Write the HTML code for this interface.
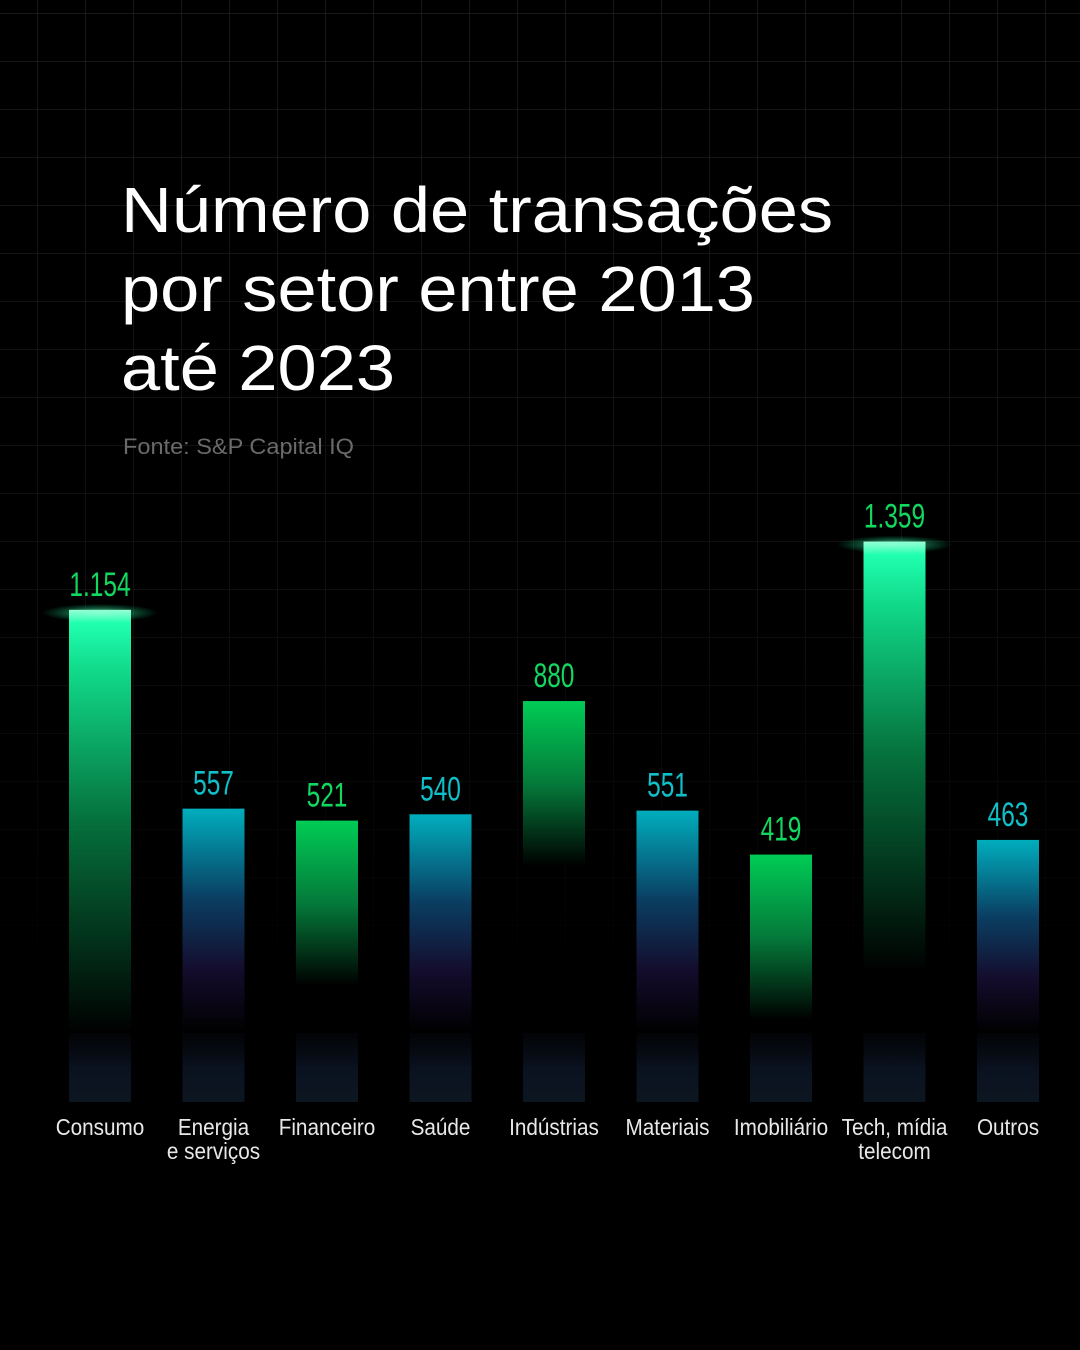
<!DOCTYPE html>
<html><head><meta charset="utf-8"><style>
html,body{margin:0;padding:0;background:#000}
#wrap{position:relative;width:1080px;height:1350px;overflow:hidden;background:#000;font-family:"Liberation Sans","DejaVu Sans",sans-serif}
svg{position:absolute;left:0;top:0}
</style></head><body>
<div id="wrap">
<svg id="chart" width="1080" height="1350">
<defs>
<linearGradient id="gridFade" x1="0" y1="0" x2="0" y2="1">
<stop offset="0" stop-color="#fff" stop-opacity="1"/><stop offset="0.45" stop-color="#fff" stop-opacity="0.6"/><stop offset="0.75" stop-color="#fff" stop-opacity="0"/>
</linearGradient>
<mask id="gm"><rect width="1080" height="1350" fill="url(#gridFade)"/></mask>
<linearGradient id="gGreen" x1="0" y1="0" x2="0" y2="1">
<stop offset="0" stop-color="#00cc55"/><stop offset="0.5" stop-color="#047a3a"/><stop offset="1" stop-color="#000"/>
</linearGradient>
<linearGradient id="gCyan" x1="0" y1="0" x2="0" y2="1">
<stop offset="0" stop-color="#00aebd"/><stop offset="0.4" stop-color="#0a3e62"/><stop offset="0.72" stop-color="#140c2c"/><stop offset="1" stop-color="#000"/>
</linearGradient>
<linearGradient id="gMint" x1="0" y1="0" x2="0" y2="1">
<stop offset="0" stop-color="#c8ffe8"/><stop offset="0.03" stop-color="#20ffb0"/><stop offset="0.15" stop-color="#10d888"/><stop offset="0.5" stop-color="#05703c"/><stop offset="1" stop-color="#000"/>
</linearGradient>
<linearGradient id="gBase" x1="0" y1="0" x2="0" y2="1">
<stop offset="0" stop-color="#070b14" stop-opacity="0.3"/><stop offset="0.5" stop-color="#0a1220"/><stop offset="1" stop-color="#0c1620"/>
</linearGradient>
<radialGradient id="glow" cx="0.5" cy="0.5" r="0.5">
<stop offset="0" stop-color="#7fffd0" stop-opacity="0.7"/><stop offset="1" stop-color="#00ff99" stop-opacity="0"/>
</radialGradient>
</defs>
<g id="grid" mask="url(#gm)"></g>
<g transform="translate(121,0) scale(1.1,1)">
<text x="0" y="232" fill="#fff" font-size="64">Número de transações</text>
<text x="0" y="311" fill="#fff" font-size="64">por setor entre 2013</text>
<text x="0" y="390" fill="#fff" font-size="64">até 2023</text>
</g>
<text x="0" y="454" transform="translate(123,0) scale(1.07,1)" fill="#6a6a6a" font-size="22">Fonte: S&amp;P Capital IQ</text>
<g id="bars"></g>
</svg>
</div>
<script>
const categories = ["Consumo","Energia|e serviços","Financeiro","Saúde","Indústrias","Materiais","Imobiliário","Tech, mídia|telecom","Outros"];
const values = [1154, 557, 521, 540, 880, 551, 419, 1359, 463];
const valueLabels = ["1.154","557","521","540","880","551","419","1.359","463"];
const colorKinds = ["mint","cyan","green","cyan","green","cyan","green","mint","cyan"];

const NS="http://www.w3.org/2000/svg";
const baseY=1102, x0=100, step=113.5, barW=62, stripTop=1033;
function xScale(i){return x0+i*step;}
function yScale(v){return baseY-(v+324)*0.333;}
function mk(t,a){const e=document.createElementNS(NS,t);for(const k in a)e.setAttribute(k,a[k]);return e;}

const grid=document.getElementById('grid');
for(let x=37;x<1080;x+=48){const l=mk('line',{x1:x+0.5,y1:0,x2:x+0.5,y2:1350,stroke:'#181818','stroke-width':1});

grid.appendChild(l);}
for(let y=13;y<1350;y+=48){const l=mk('line',{x1:0,y1:y+0.5,x2:1080,y2:y+0.5,stroke:'#181818','stroke-width':1});

grid.appendChild(l);}

const fadeLen={mint:430,cyan:230,green:165};
const g=document.getElementById('bars');
categories.forEach((c,i)=>{
  const cx=xScale(i), top=yScale(values[i]), kind=colorKinds[i];
  const base=mk('rect',{x:cx-barW/2,y:stripTop,width:barW,height:baseY-stripTop,fill:'url(#gBase)'});
  
  
  g.appendChild(base);
  const fillId=kind==='mint'?'gMint':kind==='cyan'?'gCyan':'gGreen';
  const fadeH=Math.max(10,Math.min(stripTop-top, fadeLen[kind]));
  const r=mk('rect',{x:cx-barW/2,y:top,width:barW,height:fadeH,fill:'url(#'+fillId+')'});
  
  
  g.appendChild(r);
  if(kind==='mint'){
    const gl=mk('ellipse',{cx:cx,cy:top+3,rx:58,ry:9,fill:'url(#glow)'});
    
    
    g.appendChild(gl);
  }
  const col=kind==='cyan'?'#10c0c8':'#12d860';
  const t=mk('text',{x:0,y:0,fill:col,'font-size':34,'text-anchor':'middle',transform:`translate(${cx},${top-14}) scale(0.72,1)`});
  t.textContent=valueLabels[i];
  
  
  g.appendChild(t);
  c.split('|').forEach((ln,j)=>{
    const lt=mk('text',{x:0,y:0,fill:'#e8e8e8','font-size':23,'text-anchor':'middle',transform:`translate(${cx},${1135+j*24}) scale(0.9,1)`});
    lt.textContent=ln;
    
    
    g.appendChild(lt);
  });
});
</script>
</body></html>
